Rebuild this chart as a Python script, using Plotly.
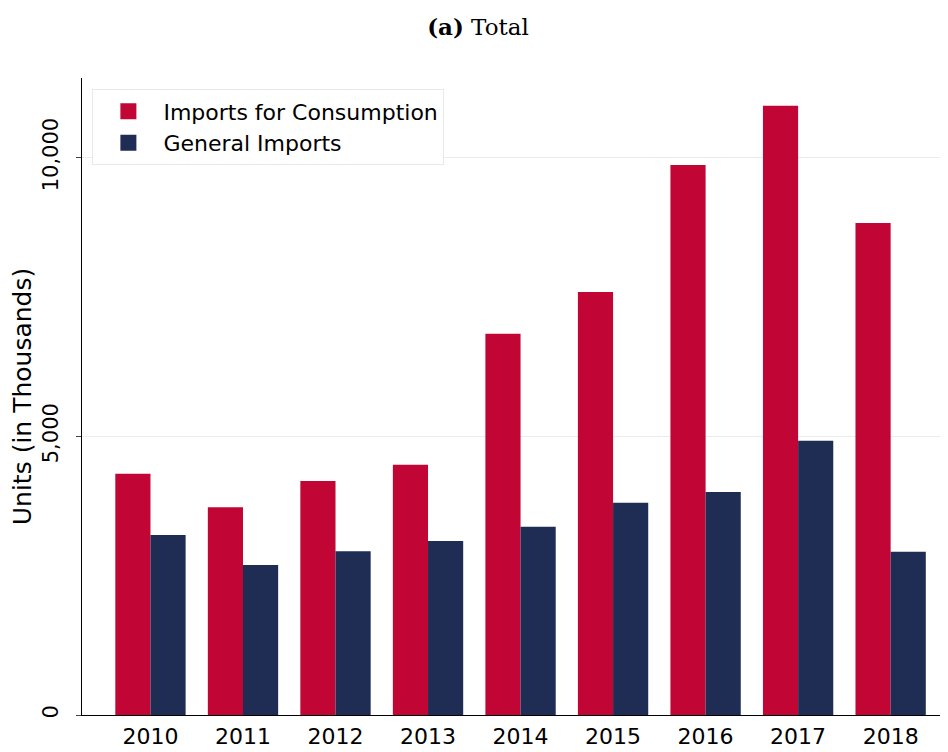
import plotly.graph_objects as go

years = [2010, 2011, 2012, 2013, 2014, 2015, 2016, 2017, 2018]
consumption = [4330, 3730, 4200, 4490, 6840, 7590, 9870, 10930, 8830]
general = [3230, 2690, 2940, 3120, 3380, 3810, 4000, 4920, 2930]

c1, c2 = "#C10534", "#1F2D54"
fig = go.Figure()
fig.add_bar(x=years, y=consumption, name="Imports for Consumption", marker_color=c1,
            marker_line_width=0, showlegend=False)
fig.add_bar(x=years, y=general, name="General Imports", marker_color=c2,
            marker_line_width=0, showlegend=False)
fig.add_scatter(x=[None], y=[None], mode="markers", name="Imports for Consumption",
                marker=dict(symbol="square", size=28, color=c1))
fig.add_scatter(x=[None], y=[None], mode="markers", name="General Imports",
                marker=dict(symbol="square", size=28, color=c2))

fig.update_layout(
    width=940, height=744, barmode="group", bargap=0.24, bargroupgap=0,
    paper_bgcolor="white", plot_bgcolor="white",
    margin=dict(l=74, r=0, t=70, b=37, autoexpand=False),
    font=dict(family="DejaVu Sans", size=21, color="black"),
    title=dict(text="<b>(a)</b> Total", x=0.5, xanchor="center", y=0.985, yanchor="top",
               font=dict(family="DejaVu Serif", size=23)),
    legend=dict(x=0.012, y=0.982, xanchor="left", yanchor="top", bgcolor="white",
                bordercolor="#e8e8e8", borderwidth=1, font=dict(size=22),
                itemwidth=60, tracegroupgap=0),
    showlegend=True,
)
fig.update_xaxes(range=[2009.26, 2018.62], tickvals=years, ticks="outside", ticklen=2,
                 tickcolor="white", showline=True, linecolor="black", linewidth=1,
                 showgrid=False, automargin=False, tickfont=dict(size=22))
fig.update_yaxes(range=[0, 11430], tickvals=[0, 5000, 10000], tickformat=",", tickangle=-90,
                 ticks="outside", ticklen=5, ticklabelstandoff=10, showline=True,
                 linecolor="black", linewidth=1,
                 showgrid=True, gridcolor="#e6eef0", zeroline=False, automargin=False,
                 title=dict(text="Units (in Thousands)", standoff=4))
fig.write_html("out.html")
